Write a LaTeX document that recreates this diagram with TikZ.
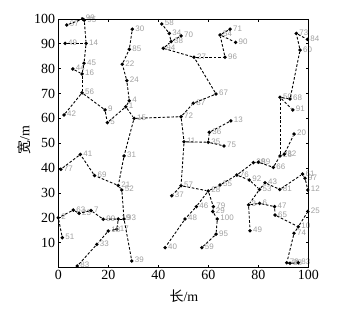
\documentclass[tikz,border=0pt]{standalone}
\usepackage{fontspec}
\setmainfont{Liberation Serif}
\newfontfamily\labfont{Liberation Sans}
\newfontfamily\cjk{Noto Sans CJK SC}
\definecolor{labgray}{RGB}{160,160,160}
\begin{document}
\begin{tikzpicture}[x=1bp,y=1bp,
  pt/.style={circle,fill=black,inner sep=0pt,minimum size=3.8bp},
  lab/.style={font=\labfont\fontsize{8}{8}\selectfont,text=labgray,inner sep=0.4bp,label distance=0.4bp,yshift=0.8bp},
  edge/.style={draw=black,line width=0.9bp,dash pattern=on 2.6bp off 1.8bp},
  ticklab/.style={font=\fontsize{14}{14}\selectfont,inner sep=0pt},
  axtitle/.style={font=\fontsize{14}{14}\selectfont,inner sep=0pt}]
\useasboundingbox (0,0) rectangle (359,310);
\begin{scope}[shift={(58.3,42.5)},x=2.5bp,y=2.485bp]
% nodes
\node[pt,label={[lab]0:97}] (a1) at (3.4,97.6) {};
\node[pt,label={[lab]0:99}] (a2) at (9.8,100.0) {};
\node[pt,label={[lab]0:95}] (a3) at (10.4,99.5) {};
\node[pt,label={[lab]0:49}] (a4) at (2.7,90.2) {};
\node[pt,label={[lab]0:14}] (a5) at (11.1,90.2) {};
\node[pt,label={[lab]0:45}] (a6) at (10.3,82.2) {};
\node[pt,label={[lab]0:44}] (a7) at (5.8,79.9) {};
\node[pt,label={[lab]0:16}] (a8) at (9.5,77.9) {};
\node[pt,label={[lab]0:56}] (a9) at (9.5,70.3) {};
\node[pt,label={[lab]0:42}] (a10) at (2.3,61.4) {};
\node[pt,label={[lab]0:9}] (a11) at (18.7,63.4) {};
\node[pt,label={[lab]0:5}] (a12) at (19.6,58.3) {};
\node[pt,label={[lab]0:1}] (a13) at (27.0,64.7) {};
\node[pt,label={[lab]0:4}] (a14) at (28.4,67.1) {};
\node[pt,label={[lab]0:24}] (a15) at (27.4,75.2) {};
\node[pt,label={[lab]0:22}] (a16) at (25.6,81.8) {};
\node[pt,label={[lab]0:85}] (a17) at (28.4,87.8) {};
\node[pt,label={[lab]0:30}] (a18) at (29.6,95.9) {};
\node[pt,label={[lab]0:15}] (a19) at (30.3,60.0) {};
\node[pt,label={[lab]0:72}] (a20) at (49.1,60.7) {};
\node[pt,label={[lab]0:87}] (a21) at (54.0,66.1) {};
\node[pt,label={[lab]0:67}] (a22) at (63.1,69.8) {};
\node[pt,label={[lab]0:27}] (a23) at (54.3,84.6) {};
\node[pt,label={[lab]0:96}] (a24) at (66.7,84.6) {};
\node[pt,label={[lab]0:54}] (a25) at (64.7,93.6) {};
\node[pt,label={[lab]0:71}] (a26) at (68.7,95.9) {};
\node[pt,label={[lab]0:90}] (a27) at (70.9,90.6) {};
\node[pt,label={[lab]0:94}] (a28) at (42.0,88.2) {};
\node[pt,label={[lab]0:38}] (a29) at (45.1,90.9) {};
\node[pt,label={[lab]0:34}] (a30) at (44.4,94.2) {};
\node[pt,label={[lab]0:58}] (a31) at (41.4,98.0) {};
\node[pt,label={[lab]0:70}] (a32) at (49.1,93.2) {};
\node[pt,label={[lab]0:11}] (a33) at (50.3,50.6) {};
\node[pt,label={[lab]0:36}] (a34) at (60.4,54.4) {};
\node[pt,label={[lab]0:35}] (a35) at (60.0,50.4) {};
\node[pt,label={[lab]0:13}] (a36) at (69.0,59.0) {};
\node[pt,label={[lab]0:75}] (a37) at (66.3,48.9) {};
\node[pt,label={[lab]0:31}] (a38) at (26.3,44.9) {};
\node[pt,label={[lab]0:21}] (a39) at (24.0,33.0) {};
\node[pt,label={[lab]0:52}] (a40) at (25.4,31.2) {};
\node[pt,label={[lab]0:41}] (b41) at (8.8,45.5) {};
\node[pt,label={[lab]0:69}] (b69) at (14.5,37.0) {};
\node[pt,label={[lab]0:77}] (b77) at (1.0,39.5) {};
\node[pt,label={[lab]0:57}] (a41) at (49.1,32.9) {};
\node[pt,label={[lab]0:37}] (a42) at (45.4,28.9) {};
\node[pt,label={[lab]0:28}] (a43) at (60.0,30.8) {};
\node[pt,label={[lab]0:55}] (a44) at (64.7,33.2) {};
\node[pt,label={[lab]0:76}] (a45) at (71.4,37.2) {};
\node[pt,label={[lab]0:92}] (a46) at (76.4,35.2) {};
\node[pt,label={[lab]0:39}] (a47) at (78.0,42.2) {};
\node[pt,label={[lab]0:89}] (a48) at (80.0,42.4) {};
\node[pt,label={[lab]0:66}] (a49) at (86.0,40.3) {};
\node[pt,label={[lab]0:26}] (a50) at (88.7,44.9) {};
\node[pt,label={[lab]0:32}] (a51) at (90.4,45.6) {};
\node[pt,label={[lab]0:20}] (a52) at (94.3,53.7) {};
\node[pt,label={[lab]0:50}] (a53) at (88.7,68.5) {};
\node[pt,label={[lab]0:68}] (a54) at (92.7,67.8) {};
\node[pt,label={[lab]0:91}] (a55) at (93.8,63.4) {};
\node[pt,label={[lab]0:60}] (a56) at (96.7,87.5) {};
\node[pt,label={[lab]0:73}] (a57) at (95.2,94.2) {};
\node[pt,label={[lab]0:84}] (a58) at (99.6,91.8) {};
\node[pt,label={[lab]0:53}] (a59) at (80.5,31.4) {};
\node[pt,label={[lab]0:43}] (a60) at (82.7,34.1) {};
\node[pt,label={[lab]0:81}] (a61) at (88.6,31.4) {};
\node[pt,label={[lab]0:61}] (a62) at (97.7,37.6) {};
\node[pt,label={[lab]0:97}] (a63) at (98.7,35.9) {};
\node[pt,label={[lab]0:12}] (a64) at (99.8,31.2) {};
\node[pt,label={[lab]0:3}] (a65) at (76.1,25.2) {};
\node[pt,label={[lab]0:6}] (a66) at (80.5,25.8) {};
\node[pt,label={[lab]0:47}] (a67) at (86.5,24.5) {};
\node[pt,label={[lab]0:65}] (a68) at (86.7,21.1) {};
\node[pt,label={[lab]0:10}] (a69) at (96.0,16.4) {};
\node[pt,label={[lab]0:25}] (a70) at (99.8,22.5) {};
\node[pt,label={[lab]0:74}] (a71) at (94.3,13.8) {};
\node[pt,label={[lab]0:78}] (a72) at (91.4,1.9) {};
\node[pt,label={[lab]0:88}] (a73) at (92.7,1.7) {};
\node[pt,label={[lab]0:83}] (a74) at (96.0,1.9) {};
\node[pt,label={[lab]0:49}] (a75) at (76.7,14.8) {};
\node[pt,label={[lab]0:46}] (a76) at (55.2,24.5) {};
\node[pt,label={[lab]0:48}] (a77) at (50.7,19.5) {};
\node[pt,label={[lab]0:40}] (a78) at (42.7,8.0) {};
\node[pt,label={[lab]0:79}] (a79) at (62.0,24.5) {};
\node[pt,label={[lab]0:29}] (a80) at (61.8,22.5) {};
\node[pt,label={[lab]0:100}] (a81) at (63.6,19.5) {};
\node[pt,label={[lab]0:95}] (a82) at (63.1,13.4) {};
\node[pt,label={[lab]0:59}] (a83) at (57.4,8.0) {};
\node[pt,label={[lab]0:2}] (a84) at (0.0,20.0) {};
\node[pt,label={[lab]0:51}] (a85) at (1.6,12.0) {};
\node[pt,label={[lab]0:63}] (a86) at (6.0,23.1) {};
\node[pt,label={[lab]0:23}] (a87) at (8.3,21.8) {};
\node[pt,label={[lab]0:7}] (a88) at (13.1,22.9) {};
\node[pt,label={[lab]0:99}] (a89) at (18.0,19.4) {};
\node[pt,label={[lab]0:19}] (a90) at (24.0,19.5) {};
\node[pt,label={[lab]0:93}] (a91) at (26.3,19.5) {};
\node[pt,label={[lab]0:17}] (a92) at (23.4,15.4) {};
\node[pt,label={[lab]0:18}] (a93) at (20.0,14.7) {};
\node[pt,label={[lab]0:33}] (b33) at (15.4,9.3) {};
\node[pt,label={[lab]0:83}] (b83) at (7.6,0.6) {};
\node[pt,label={[lab]0:39}] (b39) at (29.4,2.6) {};
% edges
\foreach \p/\q in {a1/a2,a2/a3,a3/a5,a4/a5,a5/a6,a6/a8,a7/a8,a8/a9,a9/a10,a9/a11,a11/a12,a12/a13,a13/a14,a14/a15,a15/a16,a16/a17,a17/a18,a13/a19,a19/a20,a20/a21,a21/a22,a22/a23,a23/a24,a24/a25,a25/a26,a25/a27,a23/a28,a28/a29,a29/a30,a30/a31,a29/a32,a20/a33,a33/a35,a35/a34,a34/a36,a35/a37,a19/a38,a38/a39,a39/a40,a39/b69,b69/b41,b41/b77,a33/a41,a41/a42,a41/a43,a43/a44,a44/a45,a45/a47,a47/a48,a48/a49,a49/a50,a50/a51,a51/a52,a50/a53,a53/a54,a53/a55,a54/a56,a56/a57,a57/a58,a45/a46,a46/a59,a59/a60,a60/a61,a61/a62,a62/a63,a63/a64,a59/a65,a65/a66,a66/a67,a67/a68,a68/a69,a69/a70,a69/a71,a71/a72,a72/a73,a73/a74,a65/a75,a43/a76,a76/a77,a77/a78,a43/a79,a79/a80,a80/a81,a81/a82,a82/a83,a40/a91,a91/a90,a90/a89,a89/a88,a88/a87,a87/a86,a86/a84,a84/a85,a90/a92,a92/a93,a93/b33,b33/b83,a91/b39}
  \draw[edge] (\p) -- (\q);
% frame and ticks
\draw[line width=0.9bp] (0,0) rectangle (100,100);
\foreach \x in {0,20,...,100} {
  \draw[line width=0.7bp] (\x,0) -- ++(0,2.8bp);
  \draw[line width=0.7bp] (\x,100) -- ++(0,-2.8bp);
  \node[ticklab,anchor=north,yshift=-3bp] at (\x,0) {\x};
}
\foreach \y in {0,10,...,100} {
  \draw[line width=0.7bp] (0,\y) -- ++(2.8bp,0);
  \draw[line width=0.7bp] (100,\y) -- ++(-2.8bp,0);
}
\foreach \y in {10,20,...,100}
  \node[ticklab,anchor=east,xshift=-3bp] at (0,\y) {\y};
\end{scope}
\node[axtitle] (xt) at (184,14) {{\cjk 长}/m};
\node[axtitle,rotate=90] (yt) at (24,170) {{\cjk 宽}/m};
\end{tikzpicture}
\end{document}
